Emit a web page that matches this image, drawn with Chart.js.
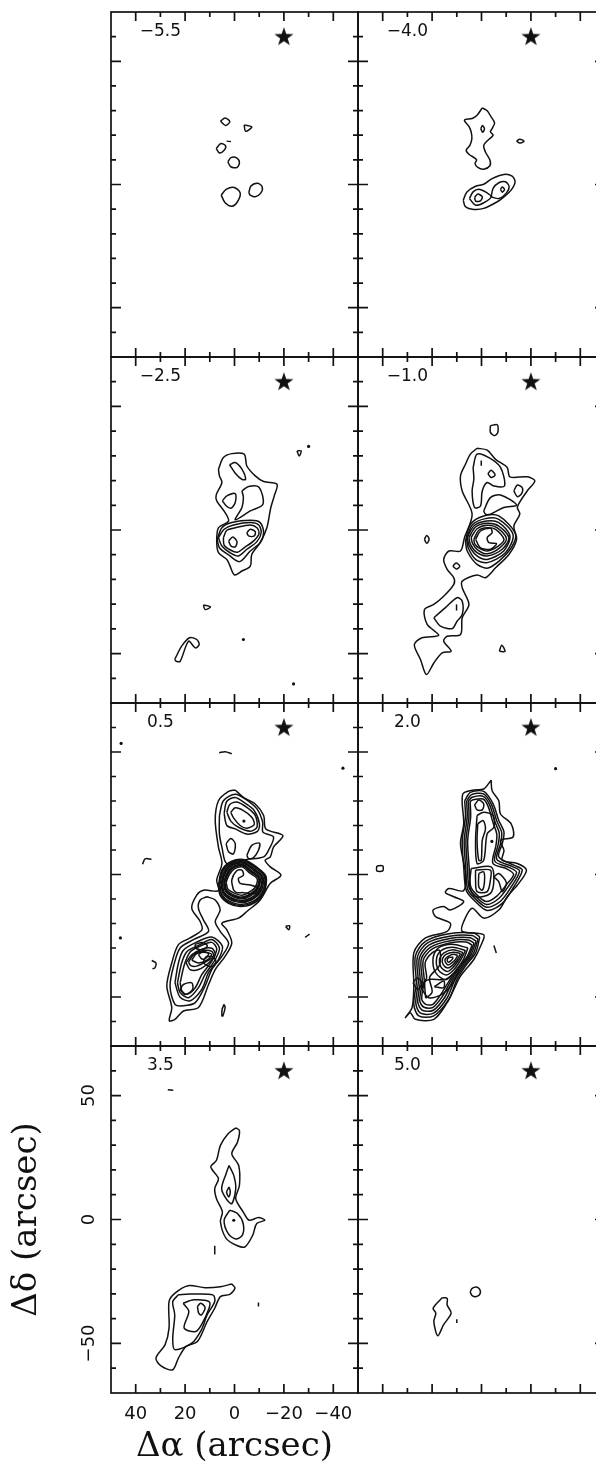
<!DOCTYPE html>
<html>
<head>
<meta charset="utf-8">
<style>
  html, body { margin: 0; padding: 0; background: #fff; overflow: hidden; }
  #plot { position: relative; width: 596px; height: 1464px; overflow: hidden; }
  #plot canvas { position: absolute; }
</style>
<script src="https://cdn.jsdelivr.net/npm/chart.js@4"></script>
</head>
<body>
<div id="plot"></div>
<script>
// channel velocities, one per panel
const channelLabels = ['\u22125.5', '\u22124.0', '\u22122.5', '\u22121.0', '0.5', '2.0', '3.5', '5.0'];

// axis ticks (arcsec)
const xTicks = [40, 30, 20, 10, 0, -10, -20, -30, -40];
const xMajor = [40, 20, 0, -20, -40];
const yTicks = [60, 50, 40, 30, 20, 10, 0, -10, -20, -30, -40, -50, -60];
const yMajor = [50, 0, -50];
const starPos = [[-20, 60]];
const labelPos = [30, 62];

// contours in arcsec, [dRA, dDec]
const contours1 = [
  [[5.7,25.7],[3.8,27],[1.9,25.5],[3.6,23.9]],
  [[-3.9,24.2],[-7,23.4],[-4.5,21.6]],
  [[7.4,14.6],[5.5,16.6],[3.6,15.7],[4.2,13.9],[6.1,12.8]],
  [[2.7,9.2],[1.4,10.9],[-1,10.7],[-2,8.8],[-1,6.9],[1.5,7.2]],
  [[5.4,-4.3],[3.4,-2],[0.1,-1.2],[-2.3,-3.4],[-1.2,-7],[1.1,-8.8],[3.8,-7.4]],
  [[-5.8,-3.4],[-6.6,-0.7],[-9.3,0.5],[-11.2,-0.9],[-10.7,-3.4],[-8.4,-5],[-6.4,-4.3]]
];
const strokes1 = [[[3.2,17.6],[1.4,17.4]]];

const contours2 = [
  [[-0.3,31.1],[-2.3,29.9],[-3.9,27.4],[-5.3,25],[-4.3,22.7],[-3.6,21.4],[-4.7,20],[-2.6,18],[-0.9,15.9],[-1.6,13.2],[-3.4,9.9],[-3.4,7.6],[-0.9,6.2],[1.5,6.9],[2.6,8.5],[2,10.1],[5.1,12.3],[6.2,13.9],[4.7,15.9],[3.9,18.6],[4.2,21.4],[5.1,23.6],[6.9,26.1],[3.8,26.8],[1.8,28.1]],
  [[0.3,22.6],[-0.4,23.9],[-1.2,22.6],[-0.5,21.2]],
  [[-14.2,17.6],[-15.5,18.4],[-17.2,17.6],[-15.5,16.8]],
  [[7.4,-6.4],[5.9,-3],[2.4,-0.7],[-0.9,0.1],[-4.3,2.4],[-9.1,4.1],[-12.4,3.4],[-13.6,1.1],[-12,-2.3],[-9.1,-5],[-6.4,-7],[-0.9,-9.7],[3.1,-10.1],[6.5,-9]],
  [[4.9,-5.7],[3.4,-3],[1.1,-1.9],[-1.6,-3],[-3.9,-5],[-0.9,-7.4],[2.4,-8.4]],
  [[-3.9,-5],[-4.7,-1.6],[-7,0.7],[-9.7,1.1],[-11.2,-0.9],[-10.1,-3.4],[-7,-5.7]],
  [[2.8,-5.3],[1.5,-3.9],[-0.3,-5],[0.4,-6.6],[2.3,-6.8]],
  [[-7.7,-2],[-8.4,-1],[-9.3,-2],[-8.4,-3.1]]
];

const contours3 = [
  [[6.5,24.6],[4.5,29.3],[1.1,30.9],[-3.9,30.7],[-5,25.9],[-8.4,21.9],[-11.8,19.6],[-17.2,18.5],[-16.1,13.8],[-14.7,9.1],[-13.1,0.9],[-10.4,-5.1],[-7,-9.9],[-6.4,-14.6],[-3,-16.6],[0,-18.2],[1.8,-14.6],[3.1,-11.9],[6.5,-9.2],[7.2,-4.5],[6.5,0.9],[2.4,3.6],[3.8,7],[7.2,11.8],[7.4,14.2],[5.1,19.2],[6.1,21.9]],
  [[2,26.4],[-0.3,27.3],[-3,24.6],[-4.5,20.5],[-3,20.5],[-0.3,23]],
  [[4.9,11.8],[3.1,13.8],[-0.3,14.7],[-0.3,11.1],[1.5,8.8],[3.4,9.8]],
  [[-3,15.8],[-5.7,17.6],[-10,17.2],[-11.5,10.4],[-6.4,7.7],[-0.3,4.1],[-3,9.1],[-3.6,13.1]],
  [[7,-3.8],[5.1,0.9],[1.1,3],[-6.4,3.9],[-10.4,3],[-11.8,-1.1],[-10.4,-5.1],[-6.4,-8.5],[-2,-12.8],[2.4,-10.1],[6.1,-7.2]],
  [[6.5,-3.1],[4.2,0.3],[0.4,2],[-6.4,3],[-9.8,2],[-10.8,-1.1],[-9.1,-4.7],[-5,-7.8],[-1.6,-10.5],[1.8,-9.2],[5.1,-6.5]],
  [[4.5,-3.1],[3.1,-0.1],[-0.3,0.9],[-6.4,2],[-9.1,0.9],[-9.9,-1.5],[-8,-4.2],[-3.9,-7.2],[-1.2,-9],[1.5,-8.2],[4.2,-6.1]],
  [[-5,-1.1],[-6.4,0.3],[-8.4,-0.7],[-8,-2.4],[-5.7,-2.4]],
  [[2.4,-4.5],[0.7,-2.8],[-1,-4.7],[-0.3,-6.8],[1.4,-6.5]],
  [[-25.3,32],[-27,32],[-26.2,29.9]],
  [[12.6,-30.3],[9.7,-31.1],[11.9,-32.2]],
  [[24.2,-52.4],[21.4,-47],[18.2,-43.6],[15.3,-44.3],[14.3,-46.4],[15.9,-47.7],[18.6,-45],[22,-53.1],[23.6,-53.1]]
];
const dots3 = [[-30,33.8],[-3.6,-44.3],[-23.9,-62.3]];

const contours4 = [
  [[-3.6,42.2],[-6.4,42.6],[-6.6,39.5],[-5.3,38.2],[-3.6,39.5]],
  [[1.8,33.1],[-2.3,32.3],[-5.7,28.6],[-10.4,25.3],[-11.5,21.5],[-18.5,21.5],[-21.6,19.9],[-18.5,15.8],[-15.8,11.8],[-14.5,9.1],[-15.5,6.4],[-13.1,1.6],[-14.2,-3.8],[-11.1,-9.9],[-5.7,-15.3],[-1.6,-19.3],[1.8,-18.2],[7.8,-20.7],[7.8,-23.4],[5.1,-30.1],[7.8,-35.5],[8.5,-42.3],[13.9,-43],[15.3,-45],[12.3,-49.1],[15.9,-49.7],[19.3,-53.8],[22.3,-58.5],[24.7,-52.4],[27.2,-46.4],[24.1,-43.6],[17.3,-42.6],[22,-38.2],[23.1,-32.2],[19.3,-30.1],[15.3,-26.8],[11.2,-22],[11.2,-19.3],[13.9,-15.9],[15.3,-11.9],[13.2,-8.5],[8.5,-8.5],[6.9,-3.1],[3.8,6.4],[7.8,15.8],[8.5,21.9],[6.5,26.6],[4.5,30.7]],
  [[3.4,25.3],[1.8,30.7],[-3,29.3],[-7.7,25.3],[-9.3,17.8],[-5,17.8],[-2.3,19.2],[-0.3,15.8],[0.4,9.7],[2.8,9.1],[3.8,15.8],[3.1,20.5]],
  [[-2.6,22.8],[-3.9,24.2],[-5.5,22.3],[-3.9,21.2]],
  [[-13.1,15.8],[-14.5,18.2],[-16.6,16.9],[-16.1,14.5],[-14.5,13.5]],
  [[-0.9,7.7],[-3.6,13.1],[-7.7,14.2],[-14.2,10.1],[-9,9.1],[-3.6,6.4],[-1.6,6.4]],
  [[6.5,-4.5],[4.5,2.3],[-0.9,5.7],[-7,5.7],[-13.8,-1.8],[-11.1,-8.5],[-3,-15.3],[1.8,-13.9],[5.8,-8.5]],
  [[6,-3.8],[3.8,2],[-1.6,4.6],[-7,4.3],[-12.8,-2],[-9.7,-9.2],[-2.3,-13.2],[2.4,-11.9],[5.4,-7.2]],
  [[5.8,-3.1],[3.1,1.6],[-2,3.6],[-7,3],[-11.5,-2.4],[-9,-8.5],[-2.3,-11.9],[1.8,-10.5],[4.9,-6.5]],
  [[5.1,-3.1],[2.4,1.2],[-2.3,2.7],[-7,1.6],[-11.1,-3.1],[-8.4,-7.8],[-2.3,-10.5],[1.8,-9.2],[4.5,-5.8]],
  [[4.2,-3.1],[1.8,0.5],[-2.3,1.9],[-6.4,0.9],[-10.1,-3.4],[-7.4,-7.2],[-2.3,-9.6],[1.5,-8.1],[3.6,-5.5]],
  [[3.1,-3.8],[1.1,-0.1],[-2.3,0.9],[-5.7,0.3],[-9.1,-3.8],[-6.8,-6.5],[-2.3,-8.5],[1.1,-7.2],[2.8,-5.5]],
  [[2.4,-3.8],[0.4,-0.4],[-3.6,0.7],[-4.3,-1.1],[-2.3,-3.1],[-3,-5.1],[-6.1,-5.5],[-3.6,-7.8],[0.4,-7.2]],
  [[23.1,-3.8],[22.2,-2.2],[21.2,-3.8],[22.2,-5.4]],
  [[11.6,-14.6],[10.3,-13.4],[8.8,-14.6],[10.1,-15.8]],
  [[19.3,-35.5],[14.6,-31.4],[9.9,-27.4],[7.8,-28.8],[7.8,-34.2],[9.9,-36.9],[11.9,-39.9],[16.6,-38.9]],
  [[-7.2,-49.1],[-8.2,-46.6],[-9.5,-49.1]]
];
const strokes4 = [[[0.1,28.1],[0.1,26]], [[10.1,-30.1],[10.1,-32.6]]];

const contours5 = [
  [[-0.3,34.5],[-3.6,31.5],[-8.4,28.8],[-11.8,24.1],[-12.7,18.6],[-19.6,15.9],[-15.8,11.2],[-14.5,7.2],[-12.4,5.8],[-14.5,3.1],[-18.8,-0.3],[-14.5,-3.6],[-10.4,-10.4],[-5,-15.1],[-1.6,-17.8],[5.1,-19.9],[3.1,-22.6],[1.1,-28],[3.8,-33.4],[7.8,-38.8],[10.5,-44.9],[14.6,-54.3],[20.7,-55.7],[24.1,-59.1],[26.4,-59.7],[25.4,-54.3],[27.4,-45.5],[25.4,-36.1],[22.7,-28.6],[18,-25.9],[13.2,-22.6],[13.9,-19.2],[17.3,-13.8],[15.3,-8.4],[12.6,-6.4],[6.5,-6.6],[7.2,-2.3],[5.1,4.5],[6.5,11.2],[7.8,22],[6.5,30.1],[2.4,33.9]],
  [[11.2,-9.1],[7.8,-10.4],[5.8,-14.5],[7.8,-19.2],[5.8,-23.2],[2.4,-28],[5.1,-33.4],[9.2,-38.8],[11.9,-45.5],[15.9,-52.3],[20.7,-53.6],[24.1,-53],[26.1,-45.5],[24.5,-36.8],[22,-30],[16.6,-26.6],[10.5,-23.2],[12.6,-18.5],[14.6,-13.8],[13.9,-10.4]],
  [[24.1,-44.2],[22.7,-36.1],[20.7,-30.9],[15.3,-27.6],[9.2,-25.5],[4.9,-29.3],[6.5,-34.7],[10.5,-40],[13.2,-46.8],[17.9,-51.5],[22,-50.1]],
  [[23.1,-44.2],[21.4,-36.1],[19.3,-31.5],[14.6,-28.9],[9.2,-26.5],[6.1,-30],[7.8,-34.7],[11.9,-40.8],[14.6,-46.2],[18.6,-50.3],[22,-48.2]],
  [[22,-44.2],[20.3,-36.8],[17.9,-31.5],[13.9,-29.2],[9.2,-27.7],[7.2,-30.4],[9.2,-35.4],[13.2,-40.8],[15.9,-46.2],[19.3,-48.9],[21.3,-47.5]],
  [[19.6,-36],[17.3,-32.8],[13.2,-30.5],[9.2,-30.1],[7.8,-32.7],[10.5,-36.1],[14.6,-38.8],[18,-38.8]],
  [[18.6,-35.8],[16.6,-32.7],[12.6,-31],[9.2,-31.4],[8.5,-33.4],[11.9,-35.8],[15.3,-37.4],[17.7,-37.2]],
  [[17.3,-35],[15.3,-32.3],[11.5,-31.8],[9.2,-32.7],[11.2,-35],[14.6,-36.1]],
  [[14.6,-32.7],[12.6,-31.4],[10.5,-32.3],[11.5,-34],[13.2,-34.5]],
  [[11.5,-33.5],[9,-33.5],[7.5,-35.5],[9,-37.5],[11.5,-37],[12.5,-35.5]],
  [[16,-28.5],[13,-27.8],[11,-29],[12.5,-30.5],[15.5,-30.2]],
  [[22,-47],[20.7,-44.9],[17.3,-44.2],[17,-47],[20,-49]],
  [[6.1,24.1],[4.5,30.1],[-0.3,32.8],[-5,30.4],[-9.1,26.8],[-11.4,21.4],[-11.5,17.3],[-15.8,15.3],[-13.8,9.9],[-11.8,7.2],[-5,6.1],[3.1,4.5],[5.1,11.2],[6.1,16.6]],
  [[4.2,24.9],[3.1,29.9],[-0.3,31.4],[-4.3,29.1],[-8,26.1],[-10.1,20.7],[-9.3,17.6],[-5,16.5],[-0.3,18.6],[3.1,20]],
  [[3.1,25.4],[2,28.5],[-0.9,29.6],[-5,27.4],[-8.4,24.1],[-9.1,19.3],[-6.4,17.7],[-1.6,19.3],[1.5,21.8]],
  [[1.5,25.4],[-0.3,27.2],[-3.6,26.1],[-7,23.4],[-8,20.4],[-5,18.9],[-2.3,20],[0.4,23.1]],
  [[3.4,12.6],[1.5,14.7],[-0.3,12.6],[0.4,8.5],[2.4,9.3]],
  [[-5,7.8],[-7,11.9],[-10.1,12.8],[-9.7,9.9],[-7.7,6.9],[-5.7,6.5]],
  [[6.5,-4.3],[5.1,1.8],[1.1,5.4],[-3.6,6.1],[-9,3],[-12.8,-0.9],[-11.8,-7.7],[-7.7,-11.8],[-2.3,-13.1],[2.4,-11.8],[5.8,-8.5]],
  [[6.2,-4.2],[4.85,1.65],[1,5.15],[-3.6,5.85],[-8.8,2.8],[-12.5,-0.95],[-11.5,-7.5],[-7.55,-11.4],[-2.35,-12.65],[2.3,-11.35],[5.5,-8.25]],
  [[5.9,-4.1],[4.6,1.5],[0.9,4.9],[-3.6,5.6],[-8.6,2.6],[-12.2,-1],[-11.2,-7.3],[-7.4,-11],[-2.4,-12.2],[2.2,-10.9],[5.2,-8]],
  [[5.4,-3.9],[4.1,1.2],[0.7,4.4],[-3.6,5.1],[-8.1,2.2],[-11.6,-1.1],[-10.7,-6.9],[-7,-10.3],[-2.5,-11.4],[1.9,-10.2],[4.7,-7.6]],
  [[5.15,-3.8],[3.85,1.05],[0.6,4.15],[-3.6,4.85],[-7.85,2],[-11.3,-1.15],[-10.4,-6.7],[-6.8,-9.95],[-2.55,-11],[1.75,-9.8],[4.45,-7.4]],
  [[4.9,-3.7],[3.6,0.9],[0.5,3.9],[-3.6,4.6],[-7.6,1.8],[-11,-1.2],[-10.1,-6.5],[-6.6,-9.6],[-2.6,-10.6],[1.6,-9.4],[4.2,-7.2]],
  [[4.4,-3.5],[3.1,0.6],[0.3,3.4],[-3.5,4.1],[-7.1,1.4],[-10.4,-1.4],[-9.5,-6.1],[-6.2,-8.9],[-2.7,-9.9],[1.3,-8.7],[3.7,-6.8]],
  [[4.15,-3.4],[2.85,0.45],[0.2,3.15],[-3.45,3.8],[-6.85,1.2],[-10.1,-1.5],[-9.2,-5.9],[-6,-8.55],[-2.75,-9.55],[1.15,-8.35],[3.45,-6.6]],
  [[3.9,-3.3],[2.6,0.3],[0.1,2.9],[-3.4,3.5],[-6.6,1],[-9.8,-1.6],[-8.9,-5.7],[-5.8,-8.2],[-2.8,-9.2],[1,-8],[3.2,-6.4]],
  [[3.4,-3.1],[2.1,0],[-0.1,2.4],[-3.3,3],[-6.1,0.6],[-9.2,-1.8],[-8.3,-5.3],[-5.4,-7.5],[-2.9,-8.5],[0.7,-7.3],[2.7,-6]],
  [[0.4,-6.4],[1.1,-2.3],[-0.9,1.5],[-3,1.8],[-3.6,-0.3],[-1.6,-1.6],[-2.3,-3.6],[-6.4,-4.3],[-10.1,-5.8],[-8.4,-7.8],[-3.6,-7.4],[-0.9,-7.4]],
  [[-20.7,-21.2],[-22.3,-20.9],[-22,-22.6]],
  [[4.2,-53],[3.8,-54.3],[4.7,-57.7],[5.1,-57.7],[5,-55]]
];
const strokes5 = [
  [[37.2,4.2],[36.2,6.4],[33.6,6.2]],
  [[6.2,49.7],[3.8,50.1],[1.1,49.3]],
  [[33.5,-35.1],[31.8,-36.1],[32.2,-38.1],[33.2,-38.5]],
  [[-28.6,-25.7],[-30.4,-24.3]]
];
const dots5 = [[-3.8,21.8],[-43.9,43.4],[45.9,53.5],[46.2,-25.9]];

const contours6 = [
  [[-3.9,38.5],[-4.3,34.2],[-7,30.1],[-7.7,24.7],[-12,20.7],[-12.8,15.3],[-7.7,13.9],[-9.1,9.9],[-8.4,5.8],[-14.5,4.5],[-18.2,1.8],[-15.1,-3.6],[-10.4,-9.1],[-7,-14.5],[-0.9,-17.8],[3.8,-13.8],[7.2,-19.2],[7.8,-23.2],[-0.9,-24.6],[0.4,-29.3],[3.1,-34.7],[8.5,-41.5],[11.2,-46.9],[13.9,-52.3],[19.3,-59.1],[26.8,-59.1],[28.8,-56.4],[30.8,-58.4],[28.1,-54.3],[27.4,-45.5],[27.4,-32],[22.7,-25.9],[13.9,-23.2],[12.6,-19.9],[18.6,-17.2],[19.6,-14.5],[15.3,-13.1],[12.6,-14.5],[7.2,-11.1],[11.2,-9.1],[14.6,-7.4],[13.2,-5.7],[7.2,-6.6],[6.5,0.4],[8.5,12.6],[7.2,20.7],[7.6,32.8],[3.1,34.5],[-0.9,34.9]],
  [[6.8,30.1],[4.5,33.5],[-0.9,33.9],[-4.7,28.8],[-7,22],[-9.1,17.3],[-8.4,12.6],[-7,7.2],[-13.1,3.8],[-16.5,1.8],[-13.1,-5],[-8.4,-11.8],[-2.3,-14.7],[3.1,-10.4],[6.2,-6.4],[7.2,3.1],[7.8,13.9],[6.5,23.4]],
  [[6,30],[4.2,32.5],[-0.8,32.9],[-4,28.6],[-6.2,21.8],[-8.2,17],[-7.6,12.3],[-6.2,6.2],[-12.4,3.3],[-15.4,1.4],[-12.2,-4.8],[-7.8,-10.8],[-2.2,-13.4],[2.8,-9.6],[5.6,-6],[6.4,3],[7,13.9],[5.8,23.4]],
  [[5.3,30],[3.8,31.5],[-0.7,31.9],[-3.3,28.4],[-5.4,21.6],[-7.2,16.8],[-6.7,12],[-5.4,5.4],[-11.4,2.8],[-14.2,0.8],[-11.2,-4.4],[-7,-9.8],[-2,-12.2],[2.5,-8.8],[5,-5.4],[5.7,3],[6.3,13.9],[5.1,23.4]],
  [[4.6,29.8],[3.4,30.5],[-0.6,30.8],[-2.6,28],[-4.6,21.4],[-6.2,16.4],[-5.8,11.6],[-4.6,4.6],[-10.4,2.2],[-13,0],[-10.2,-4],[-6.2,-8.8],[-1.8,-11],[2.2,-8],[4.4,-4.8],[5,3],[5.6,13.9],[4.4,23.4]],
  [[2.8,28.4],[1.1,30.4],[-0.9,28.8],[-0.3,26.4],[1.8,26.4]],
  [[1.8,24.1],[-0.9,25.4],[-4.7,24.1],[-5,19.3],[-2.3,16.6],[-0.9,5.8],[1.8,4.5],[2.4,13.9]],
  [[1.5,20.7],[-0.7,22],[-1.6,18.6],[-0.3,13.9],[0.1,5.8],[1.1,5.8],[1.8,13.9]],
  [[-5,-1],[-7,0.4],[-10.1,-3.4],[-8.4,-7],[-7,-3]],
  [[2.4,1.8],[-3.6,1.8],[-3.6,-2.3],[-2.3,-7],[1.8,-7],[2.4,-2.3]],
  [[1.1,0.4],[-0.9,1.1],[-1.2,-3],[-0.3,-6.4],[1.1,-5]],
  [[4.2,2.4],[-3.9,3.1],[-5,-2.3],[-3.6,-7.7],[2.4,-9.1],[4.7,-5]],
  [[0.7,-25.5],[2.4,-32],[6.5,-37.4],[9.9,-42.8],[13.2,-50.9],[19.3,-57.7],[25.4,-57.7],[27.4,-53],[26.4,-44.2],[26.8,-33.4],[22.7,-27.3],[13.2,-24.2],[3.1,-23.9]],
  [[1.4,-26.4],[3.3,-32.3],[7.4,-37.8],[10.8,-43],[14,-50.5],[19.4,-56.6],[24.7,-56.6],[26.6,-52.5],[25.6,-44],[26,-33.8],[22,-28],[13,-25.2],[3.8,-24.9]],
  [[2.2,-27.2],[4.2,-32.6],[8.2,-38],[11.6,-43.2],[14.8,-50],[19.5,-55.4],[24,-55.4],[25.8,-52],[24.8,-43.8],[25.2,-34.2],[21.3,-28.8],[12.8,-26.1],[4.6,-25.8]],
  [[3,-28],[5,-33],[9,-38.2],[12.4,-43.4],[15.6,-49.4],[19.6,-54.2],[23.3,-54.2],[25,-51.5],[24,-43.6],[24.4,-34.6],[20.6,-29.6],[12.6,-27],[5.4,-26.7]],
  [[3.8,-28.8],[5.8,-33.4],[9.8,-38.4],[13.2,-43.6],[16.4,-48.8],[19.7,-53],[22.6,-53],[24.2,-50.8],[23.2,-43.4],[23.6,-35],[19.9,-30.4],[12.4,-27.9],[6.2,-27.6]],
  [[5.5,-30],[7.5,-35],[11,-40],[14.5,-43],[18.6,-40],[19.6,-34],[17.5,-30],[12,-28.5]],
  [[6.5,-31],[8.5,-35],[11.3,-39],[14.2,-41],[17.4,-39],[18.2,-34.3],[16.2,-31],[11.7,-29.7]],
  [[7.5,-31.8],[9.3,-35],[11.6,-38],[13.9,-39.6],[16.4,-37.8],[17,-34.5],[15.2,-32],[11.5,-30.7]],
  [[8.5,-32.3],[10,-35],[11.9,-37.2],[13.7,-38.2],[15.5,-36.8],[15.8,-34.5],[14.4,-32.6],[11.3,-31.7]],
  [[9.6,-33],[10.8,-35],[12.2,-36.2],[13.5,-36.9],[14.6,-35.8],[14.7,-34.5],[13.5,-33.4],[11.4,-32.6]],
  [[11.4,-33.8],[12.2,-35],[13.4,-35.8],[13.9,-34.8],[13,-33.8]],
  [[19.1,-45.8],[15.3,-43.5],[15.3,-46.2]],
  [[27.7,-44.2],[26.1,-42.2],[24.1,-44.2],[25.8,-46.9]],
  [[22.6,-50.5],[23,-44],[22.2,-42],[22.8,-36],[20,-32],[17,-31],[17,-37],[21,-42],[20,-48]],
  [[24.1,-46.9],[21.4,-50.3],[16,-48.9],[11.5,-44.2],[9.2,-38.8],[14.6,-42.8],[20.7,-42.8],[23.4,-44.2]],
  [[42.4,3.5],[40,3.5],[40,1.5],[42.4,1.5]]
];
const strokes6 = [[[-5,-29],[-6,-32]]];
const dots6 = [[-4.2,13.5],[-30,43.2]];

const contours7 = [
  [[-0.5,37],[-2,35.9],[-1.2,31.2],[1.1,26.5],[-1.7,21.8],[-2,13.8],[-0.5,8.4],[-3.5,3.1],[-5.9,-0.3],[-9.7,0.8],[-12.3,-0.3],[-9,-1.6],[-7.4,-6.3],[-4.3,-11],[-1.2,-10.6],[3.4,-7.6],[5.7,-0.9],[4.9,3.1],[7.3,8.4],[8,12.5],[6.5,16.5],[9.6,21.2],[7.3,23.9],[5.7,29.9],[2.6,34.6]],
  [[2.2,21.8],[0.3,17.8],[-0.5,12.5],[1.1,6.4],[3.4,8.4],[5.2,12.5],[3.4,18.5]],
  [[2.2,13.1],[1.7,11.1],[2.3,9.1],[3.2,11.1]],
  [[1.9,3.8],[-1.2,2.4],[-3.5,-1.6],[-3.2,-6.3],[-0.5,-7.9],[2.6,-5.6],[4.2,-0.3]],
  [[1.1,-26],[-0.2,-27.7],[1.9,-30.2],[5.7,-31.1],[8,-35.8],[11.1,-41.2],[15,-49.2],[19.6,-51.2],[22.7,-55.9],[25,-60.6],[29.6,-59.2],[31.8,-55.9],[28.1,-50.5],[26.5,-43.8],[26.5,-33.1],[24.2,-29.8],[18.8,-26.7],[11.9,-27.5],[5.7,-27.1]],
  [[22.7,-30.4],[18,-30.1],[8.8,-30.4],[8,-33.1],[11.1,-38.5],[13.4,-44.5],[17.3,-49.9],[24.2,-52.5],[25,-47.9],[24.2,-38.5],[25,-33.1]],
  [[20.8,-33.8],[16.5,-32.4],[10.3,-33.1],[10.3,-35.8],[13.4,-42.5],[15.7,-45.2],[20.4,-43.8],[18.5,-37.1]],
  [[15,-35.1],[13.7,-33.8],[11.9,-35.5],[13.4,-38.5],[14.5,-37.8]]
];
const strokes7 = [[[27,52.3],[24.8,52.1]], [[8,-10.6],[8,-14.1]], [[-9.7,-33.5],[-9.7,-35.1]]];
const dots7 = [[0.3,-0.3]];

const contours8 = [
  [[15.9,-31.6],[13.9,-31.8],[13.9,-34.5],[12.3,-37.8],[15.4,-42.5],[17.7,-46.9],[19.3,-41.2],[18.5,-37.8],[19.6,-35.8]],
  [[4.6,-29.2],[3.8,-27.8],[2,-27.2],[0.7,-28.2],[0.6,-30],[2,-31.1],[3.8,-30.7]]
];
const strokes8 = [[[10,-40.2],[10,-41.8]]];

const panelContours = [contours1, contours2, contours3, contours4, contours5, contours6, contours7, contours8];
const panelStrokes = [strokes1, [], [], strokes4, strokes5, strokes6, strokes7, strokes8];
const panelDots = [[], [], dots3, [], dots5, dots6, dots7, []];

// panel frames on the page
const colLeft = [111, 358];
const panelWidth = 247;
const rowTop = [12, 357, 703, 1046];
const rowBottom = [357, 703, 1046, 1393];
const ink = '#111';

// filled five point star for the source position
function makeStar() {
  const c = document.createElement('canvas');
  c.width = 22;
  c.height = 22;
  const g = c.getContext('2d');
  g.fillStyle = ink;
  g.beginPath();
  for (let i = 0; i < 10; i++) {
    const r = i % 2 === 0 ? 10 : 3.9;
    const a = -Math.PI / 2 + i * Math.PI / 5;
    g.lineTo(11 + r * Math.cos(a), 11.5 + r * Math.sin(a));
  }
  g.closePath();
  g.fill();
  return c;
}
const starImage = makeStar();

function lineSet(points) {
  return {
    data: points,
    showLine: true,
    borderColor: ink,
    borderWidth: 1.5,
    tension: 0.3,
    pointRadius: 0,
    fill: false
  };
}

function buildDatasets(i) {
  const sets = [];
  panelContours[i].forEach(function (c) {
    sets.push(lineSet(c.concat([c[0]])));
  });
  panelStrokes[i].forEach(function (s) {
    sets.push(lineSet(s));
  });
  if (panelDots[i].length) {
    sets.push({ data: panelDots[i], showLine: false, pointRadius: 1.6, backgroundColor: ink, borderWidth: 0 });
  }
  sets.push({ data: starPos, showLine: false, pointStyle: starImage, pointRadius: 10 });
  return sets;
}

// frame, inward ticks and channel label, all placed through the scales
const framePlugin = {
  id: 'frame',
  afterDraw: function (chart) {
    const ctx = chart.ctx;
    const a = chart.chartArea;
    const x = chart.scales.x;
    const y = chart.scales.y;
    ctx.save();
    ctx.strokeStyle = ink;
    ctx.lineWidth = 1.7;
    ctx.strokeRect(a.left, a.top, a.right - a.left, a.bottom - a.top);
    ctx.beginPath();
    xTicks.forEach(function (v) {
      const px = x.getPixelForValue(v);
      const len = xMajor.includes(v) ? 9 : 5;
      ctx.moveTo(px, a.top);
      ctx.lineTo(px, a.top + len);
      ctx.moveTo(px, a.bottom);
      ctx.lineTo(px, a.bottom - len);
    });
    yTicks.forEach(function (v) {
      const py = y.getPixelForValue(v);
      const len = yMajor.includes(v) ? 10 : 5;
      ctx.moveTo(a.left, py);
      ctx.lineTo(a.left + len, py);
      ctx.moveTo(a.right, py);
      ctx.lineTo(a.right - len, py);
    });
    ctx.stroke();
    ctx.fillStyle = ink;
    ctx.font = '17px "DejaVu Sans"';
    ctx.textAlign = 'center';
    ctx.textBaseline = 'middle';
    ctx.fillText(chart.options.plugins.frame.label, x.getPixelForValue(labelPos[0]), y.getPixelForValue(labelPos[1]));
    ctx.restore();
  }
};

function tickText(v) {
  return v < 0 ? '\u2212' + Math.abs(v) : String(v);
}

// stop the axis text from pushing the chart area around
function clearPadding(scale) {
  scale.paddingLeft = 0;
  scale.paddingRight = 0;
  scale.paddingTop = 0;
  scale.paddingBottom = 0;
}

const plot = document.getElementById('plot');

channelLabels.forEach(function (label, i) {
  const col = i % 2;
  const row = Math.floor(i / 2);
  const labelled = i === 6; // only the lower left panel carries axis text
  const margin = 3;
  const canvas = document.createElement('canvas');

  let left = colLeft[col] - margin;
  let top = rowTop[row] - margin;
  let width = panelWidth + margin * 2;
  let height = rowBottom[row] - rowTop[row] + margin * 2;
  if (labelled) {
    left = 0;
    height = 1464 - top;
    width = colLeft[col] + panelWidth + margin;
  }
  canvas.width = width;
  canvas.height = height;
  canvas.style.left = left + 'px';
  canvas.style.top = top + 'px';
  plot.appendChild(canvas);

  new Chart(canvas.getContext('2d'), {
    type: 'scatter',
    data: { datasets: buildDatasets(i) },
    plugins: [framePlugin],
    options: {
      responsive: false,
      animation: false,
      layout: {
        autoPadding: false,
        padding: labelled
          ? { top: margin, right: margin, left: 0, bottom: 0 }
          : margin
      },
      plugins: {
        legend: { display: false },
        tooltip: { enabled: false },
        frame: { label: label }
      },
      scales: {
        x: {
          type: 'linear',
          display: labelled,
          reverse: true,
          min: -50,
          max: 50,
          grid: { display: false, drawTicks: false },
          border: { display: false },
          afterBuildTicks: function (scale) {
            scale.ticks = xMajor.map(function (v) { return { value: v }; });
          },
          afterFit: function (scale) {
            clearPadding(scale);
            if (labelled) scale.height = 71;
          },
          ticks: {
            autoSkip: false,
            maxRotation: 0,
            padding: 11,
            color: ink,
            font: { family: 'DejaVu Sans', size: 18 },
            callback: tickText
          },
          title: {
            display: true,
            text: '\u0394\u03b1 (arcsec)',
            color: ink,
            font: { family: 'DejaVu Serif', size: 34 },
            padding: { top: 0, bottom: -4 }
          }
        },
        y: {
          type: 'linear',
          display: labelled,
          min: -70,
          max: 70,
          grid: { display: false, drawTicks: false },
          border: { display: false },
          afterBuildTicks: function (scale) {
            scale.ticks = yMajor.map(function (v) { return { value: v }; });
          },
          afterFit: function (scale) {
            clearPadding(scale);
            if (labelled) scale.width = 111;
          },
          ticks: {
            autoSkip: false,
            minRotation: 90,
            maxRotation: 90,
            crossAlign: 'center',
            padding: 3,
            color: ink,
            font: { family: 'DejaVu Sans', size: 18 },
            callback: tickText
          },
          title: {
            display: true,
            text: '\u0394\u03b4 (arcsec)',
            color: ink,
            font: { family: 'DejaVu Serif', size: 34 },
            padding: { top: 7, bottom: 0 }
          }
        }
      }
    }
  });
});
</script>
</body>
</html>
